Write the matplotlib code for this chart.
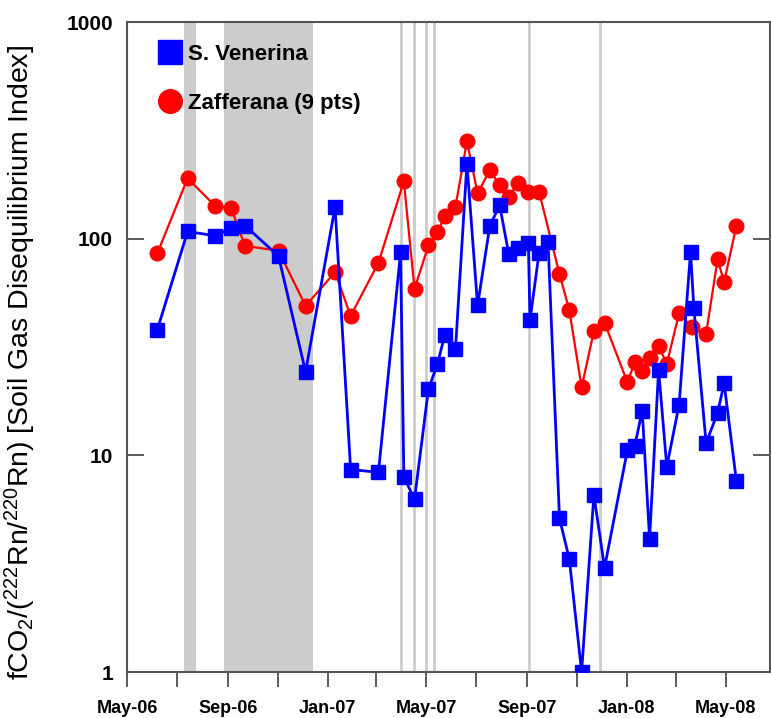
import matplotlib
matplotlib.use("Agg")
import matplotlib.pyplot as plt
import matplotlib.dates as mdates
from matplotlib.lines import Line2D
import matplotlib.ticker as mticker
from datetime import datetime

plt.rcParams['font.family'] = ['Liberation Sans', 'DejaVu Sans']
plt.rcParams['mathtext.fontset'] = 'custom'
plt.rcParams['mathtext.rm'] = 'Liberation Sans'
plt.rcParams['mathtext.it'] = 'Liberation Sans:italic'
plt.rcParams['mathtext.bf'] = 'Liberation Sans:bold'

# ---- data ----
venerina_dates = ["2006-06-07", "2006-07-14", "2006-08-17", "2006-09-05", "2006-09-22",
                  "2006-11-02", "2006-12-05", "2007-01-10", "2007-01-29", "2007-03-04",
                  "2007-03-31", "2007-04-04", "2007-04-17", "2007-05-04", "2007-05-15",
                  "2007-05-24", "2007-06-06", "2007-06-20", "2007-07-03", "2007-07-18",
                  "2007-07-30", "2007-08-10", "2007-08-21", "2007-09-03", "2007-09-05",
                  "2007-09-16", "2007-09-27", "2007-10-11", "2007-10-23", "2007-11-07",
                  "2007-11-22", "2007-12-05", "2008-01-02", "2008-01-11", "2008-01-20",
                  "2008-01-29", "2008-02-09", "2008-02-19", "2008-03-05", "2008-03-19",
                  "2008-03-23", "2008-04-07", "2008-04-21", "2008-04-29", "2008-05-14"]
venerina_values = [38, 108, 103, 112, 115,
                   83, 24.3, 140, 8.6, 8.35,
                   86.5, 7.97, 6.26, 20.2, 26.4,
                   36, 30.8, 222, 49.2, 115,
                   142.5, 85.2, 90.8, 95.1, 42.1,
                   85.5, 96.8, 5.12, 3.32, 1.0,
                   6.56, 3.03, 10.6, 11.1, 16.1,
                   4.12, 24.8, 8.86, 17.1, 87,
                   48, 11.4, 15.7, 21.5, 7.6]

zafferana_dates = ["2006-06-07", "2006-07-14", "2006-08-17", "2006-09-05", "2006-09-22",
                   "2006-11-02", "2006-12-05", "2007-01-10", "2007-01-29", "2007-03-04",
                   "2007-04-04", "2007-04-17", "2007-05-04", "2007-05-15", "2007-05-24",
                   "2007-06-06", "2007-06-20", "2007-07-03", "2007-07-18", "2007-07-30",
                   "2007-08-10", "2007-08-21", "2007-09-03", "2007-09-16", "2007-10-11",
                   "2007-10-23", "2007-11-07", "2007-11-22", "2007-12-05", "2008-01-02",
                   "2008-01-11", "2008-01-20", "2008-01-29", "2008-02-09", "2008-02-19",
                   "2008-03-05", "2008-03-21", "2008-04-07", "2008-04-21", "2008-04-29",
                   "2008-05-14"]
zafferana_values = [85.5, 190, 141, 139, 92.7,
                    87.9, 49, 70, 44, 77.4,
                    184, 58.7, 93, 107, 127,
                    140, 282, 162, 207, 176,
                    155, 181, 164, 165, 68.7,
                    46.8, 20.6, 37.4, 40.9, 21.7,
                    27, 24.6, 28, 32, 26.4,
                    45.2, 39, 36.5, 80.2, 63,
                    115]

eruption_periods = [("2006-07-09", "2006-07-24"), ("2006-08-27", "2006-12-14")]
event_dates = ["2007-03-31", "2007-04-16", "2007-05-01", "2007-05-11", "2007-09-04", "2007-11-29"]

labels = ["S. Venerina", "Zafferana (9 pts)"]
ytick_vals = [1, 10, 100, 1000]
ytick_labels = ["1", "10", "100", "1000"]


def d(s):
    return datetime.strptime(s, "%Y-%m-%d")


fig = plt.figure(figsize=(7.71, 7.18), dpi=100)
ax = fig.add_axes([127 / 771, 1 - 672 / 718, 643 / 771, 650 / 718])

for a, b in eruption_periods:
    ax.axvspan(d(a), d(b), color="#cccccc", lw=0, zorder=0)
for e in event_dates:
    ax.axvline(d(e), color="#cccccc", lw=2, zorder=0)

ax.plot([d(s) for s in zafferana_dates], zafferana_values, color="#ff0000", lw=1.6,
        marker="o", ms=10.5, mec="#ff0000", mfc="#ff0000", zorder=3)
ax.plot([d(s) for s in venerina_dates], venerina_values, color="#0000ff", lw=2,
        marker="s", ms=10.5, mec="#0000ff", mfc="#0000ff", zorder=4)

ax.set_yscale("log")
ax.set_ylim(1, 1000)
ax.set_xlim(d("2006-05-01"), d("2008-06-24"))

ax.yaxis.set_major_locator(mticker.FixedLocator(ytick_vals))
ax.yaxis.set_major_formatter(mticker.FixedFormatter(ytick_labels))
ax.yaxis.set_minor_locator(mticker.NullLocator())

ax.xaxis.set_major_locator(mdates.MonthLocator(bymonth=[1, 5, 9]))
ax.xaxis.set_minor_locator(mdates.MonthLocator(bymonth=[3, 7, 11]))
ax.xaxis.set_major_formatter(mdates.DateFormatter("%b-%y"))

ax.tick_params(axis="y", which="major", direction="in", length=12, width=1.2,
               color="#404040", left=True, right=True, labelsize=15, pad=10)
ax.tick_params(axis="x", which="both", direction="out", length=11, width=1.2,
               color="#404040", top=False, labelsize=13, pad=9)
for lab in ax.get_yticklabels() + ax.get_xticklabels():
    lab.set_fontweight("bold")

for sp in ax.spines.values():
    sp.set_color("#555555")
    sp.set_linewidth(1.5)

ax.set_ylabel(r"fCO$_2$/($^{222}$Rn/$^{220}$Rn) [Soil Gas Disequilibrium Index]",
              fontsize=20.5)
ax.yaxis.set_label_coords((38 - 127) / 643, (672 - 362) / 650)

handles = [Line2D([], [], color="#0000ff", marker="s", ls="none", ms=17),
           Line2D([], [], color="#ff0000", marker="o", ls="none", ms=17)]
leg = ax.legend(handles, labels, loc="upper left", bbox_to_anchor=(0.025, 0.99),
                frameon=False, prop={"weight": "bold", "size": 16},
                handlelength=1.0, handletextpad=0.3, labelspacing=1.25, borderpad=0.2)

fig.savefig("out.png", dpi=100)
